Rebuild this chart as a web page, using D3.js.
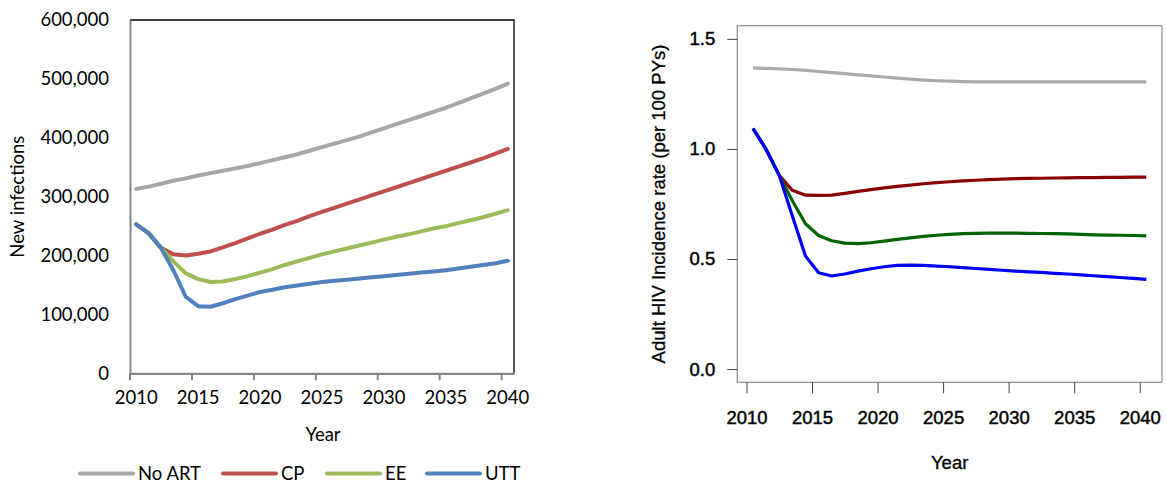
<!DOCTYPE html>
<html><head><meta charset="utf-8">
<script src="https://cdn.jsdelivr.net/npm/d3@7"></script>
<style>body{margin:0;background:#fff}svg{display:block}</style>
</head><body>
<svg id="c" width="1166" height="485"></svg>
<script>
// ---------- data ----------
const years = [2010,2011,2012,2013,2014,2015,2016,2017,2018,2019,2020,2021,2022,2023,2024,2025,2026,2027,2028,2029,2030,2031,2032,2033,2034,2035,2036,2037,2038,2039,2040];
const yearTicks = [2010,2015,2020,2025,2030,2035,2040];
const seriesNames = ["No ART","CP","EE","UTT"];

// Left panel: new infections
const noArtInf = [313,317,322,327,331,336,340,344,348,352,357,362,367,372,378,384,390,396,402,409,416,423,430,437,444,451,459,467,475,483,492].map(v=>v*1000);
const cpInf    = [253,238,213,202,200,203,207,214,221,229,237,244,252,259,267,274,281,288,295,302,309,316,323,330,337,344,351,358,365,373,381].map(v=>v*1000);
const eeInf    = [253,238,213,190,170,160,155,156,160,165,171,177,184,190,196,202,207,212,217,222,227,232,236,241,246,250,255,260,265,271,277].map(v=>v*1000);
const uttInf   = [253,238,213,175,130,114,113,119,126,132,138,142,146,149,152,155,157,159,161,163,165,167,169,171,173,175,178,181,184,187,191].map(v=>v*1000);
const infTicks = [0,100000,200000,300000,400000,500000,600000];

// Right panel: adult HIV incidence rate (per 100 PYs), mid-year values
const noArtRate = [1.368,1.366,1.364,1.361,1.357,1.352,1.347,1.342,1.337,1.332,1.327,1.322,1.317,1.313,1.310,1.308,1.306,1.305,1.305,1.305,1.305,1.305,1.305,1.305,1.305,1.305,1.305,1.305,1.305,1.305,1.305];
const cpRate    = [1.093,0.998,0.880,0.812,0.790,0.789,0.790,0.798,0.807,0.815,0.823,0.830,0.836,0.842,0.847,0.851,0.855,0.858,0.861,0.863,0.865,0.866,0.867,0.868,0.869,0.870,0.870,0.871,0.871,0.872,0.872];
const eeRate    = [1.093,0.998,0.880,0.765,0.660,0.607,0.583,0.572,0.570,0.574,0.581,0.589,0.596,0.603,0.608,0.612,0.615,0.617,0.618,0.618,0.618,0.617,0.616,0.615,0.614,0.612,0.610,0.609,0.608,0.607,0.605];
const uttRate   = [1.093,0.998,0.880,0.695,0.514,0.438,0.423,0.432,0.445,0.456,0.465,0.471,0.472,0.471,0.468,0.465,0.461,0.457,0.453,0.449,0.445,0.442,0.439,0.435,0.432,0.428,0.424,0.420,0.416,0.412,0.408];
const rateTicks = [0.0,0.5,1.0,1.5];

const svg = d3.select("#c");

// ---------- left panel (Excel style) ----------
(function(){
  const L=130, R=514, T=20, B=373.3;
  const x = d3.scaleBand().domain(years).range([L,R]);
  const y = d3.scaleLinear().domain([0,600000]).range([B,T]);
  const colors = ["#A6A6A6","#C0504D","#9BBB59","#4F81BD"];
  const data = [noArtInf,cpInf,eeInf,uttInf];
  const font = "Lato, 'Open Sans', sans-serif";
  const g = svg.append("g");

  // plot border top/right
  g.append("path").attr("d",`M${L},${T}H${R}V${B}`).attr("fill","none").attr("stroke","#000").attr("stroke-width",1.3);

  const line = d3.line().x((d,i)=>x(years[i])+x.bandwidth()/2).y(d=>y(d));
  data.forEach((s,k)=>{
    g.append("path").datum(s).attr("d",line).attr("fill","none")
      .attr("stroke",colors[k]).attr("stroke-width",4).attr("stroke-linejoin","round").attr("stroke-linecap","round");
  });

  // y axis
  const ya = g.append("g").attr("transform",`translate(${L},0)`)
    .call(d3.axisLeft(y).tickValues(infTicks).tickSize(0).tickPadding(21).tickFormat(d3.format(",")));
  ya.select(".domain").attr("stroke","#868686").attr("stroke-width",2);
  ya.selectAll("text").attr("font-family",font).attr("font-size",18.5).attr("fill","#000");

  // x axis
  const xa = g.append("g").attr("transform",`translate(0,${B})`)
    .call(d3.axisBottom(x).tickValues(yearTicks).tickSize(0).tickPadding(18));
  xa.select(".domain").attr("stroke","#868686").attr("stroke-width",2.2);
  xa.selectAll("text").attr("font-family",font).attr("font-size",18.5).attr("fill","#000");
  xa.selectAll(".tick line").remove();
  yearTicks.forEach(t=>{
    xa.append("line").attr("x1",x(t)).attr("x2",x(t)).attr("y1",0).attr("y2",7)
      .attr("stroke","#868686").attr("stroke-width",2);
  });

  g.append("text").attr("x",(L+R)/2+1).attr("y",441).attr("text-anchor","middle")
    .attr("font-family",font).attr("font-size",18.5).text("Year");
  g.append("text").attr("transform",`translate(24,${(T+B)/2}) rotate(-90)`).attr("text-anchor","middle")
    .attr("font-family",font).attr("font-size",18.5).text("New infections");

  // legend
  const lx = [80,223,327,427];
  seriesNames.forEach((n,k)=>{
    g.append("line").attr("x1",lx[k]).attr("x2",lx[k]+53).attr("y1",473.5).attr("y2",473.5)
      .attr("stroke",colors[k]).attr("stroke-width",4).attr("stroke-linecap","round");
    g.append("text").attr("x",lx[k]+58).attr("y",480).attr("font-family",font).attr("font-size",18.5).text(n);
  });
})();

// ---------- right panel (R style) ----------
(function(){
  const L=737.3, R=1162, T=25.7, B=382.3;
  const x = d3.scaleLinear().domain([2009.3,2041.7]).range([L,R]);
  const y = d3.scaleLinear().domain([-0.06,1.56]).range([B,T]);
  const colors = ["#AAAAAA","#8B0000","#006400","#0000FF"];
  const data = [noArtRate,cpRate,eeRate,uttRate];
  const font = "'Liberation Sans', Arial, sans-serif";
  const g = svg.append("g");

  const line = d3.line().x((d,i)=>x(years[i]+0.5)).y(d=>y(d));
  data.forEach((s,k)=>{
    g.append("path").datum(s).attr("d",line).attr("fill","none")
      .attr("stroke",colors[k]).attr("stroke-width",3.2).attr("stroke-linejoin","round");
  });

  g.append("rect").attr("x",L).attr("y",T).attr("width",R-L).attr("height",B-T)
    .attr("fill","none").attr("stroke","#8a8a8a").attr("stroke-width",1.2);

  const ya = g.append("g").attr("transform",`translate(${L},0)`)
    .call(d3.axisLeft(y).tickValues(rateTicks).tickSize(10).tickPadding(12).tickFormat(d3.format(".1f")));
  ya.select(".domain").remove();
  ya.selectAll(".tick line").attr("stroke","#444");
  ya.selectAll("text").attr("font-family",font).attr("font-size",18.5).attr("fill","#000")
    .attr("stroke","#000").attr("stroke-width",0.45);

  const xa = g.append("g").attr("transform",`translate(0,${B})`)
    .call(d3.axisBottom(x).tickValues(yearTicks).tickSize(11).tickPadding(18).tickFormat(d3.format("d")));
  xa.select(".domain").remove();
  xa.selectAll(".tick line").attr("stroke","#444");
  xa.selectAll("text").attr("font-family",font).attr("font-size",18.5).attr("fill","#000")
    .attr("stroke","#000").attr("stroke-width",0.45);

  g.append("text").attr("x",(L+R)/2).attr("y",469).attr("text-anchor","middle")
    .attr("font-family",font).attr("font-size",18.5).attr("stroke","#000").attr("stroke-width",0.3).text("Year");
  g.append("text").attr("transform",`translate(665,${(T+B)/2}) rotate(-90)`).attr("text-anchor","middle")
    .attr("font-family",font).attr("font-size",18.5).attr("stroke","#000").attr("stroke-width",0.3)
    .text("Adult HIV Incidence rate (per 100 PYs)");
})();
</script>
</body></html>
